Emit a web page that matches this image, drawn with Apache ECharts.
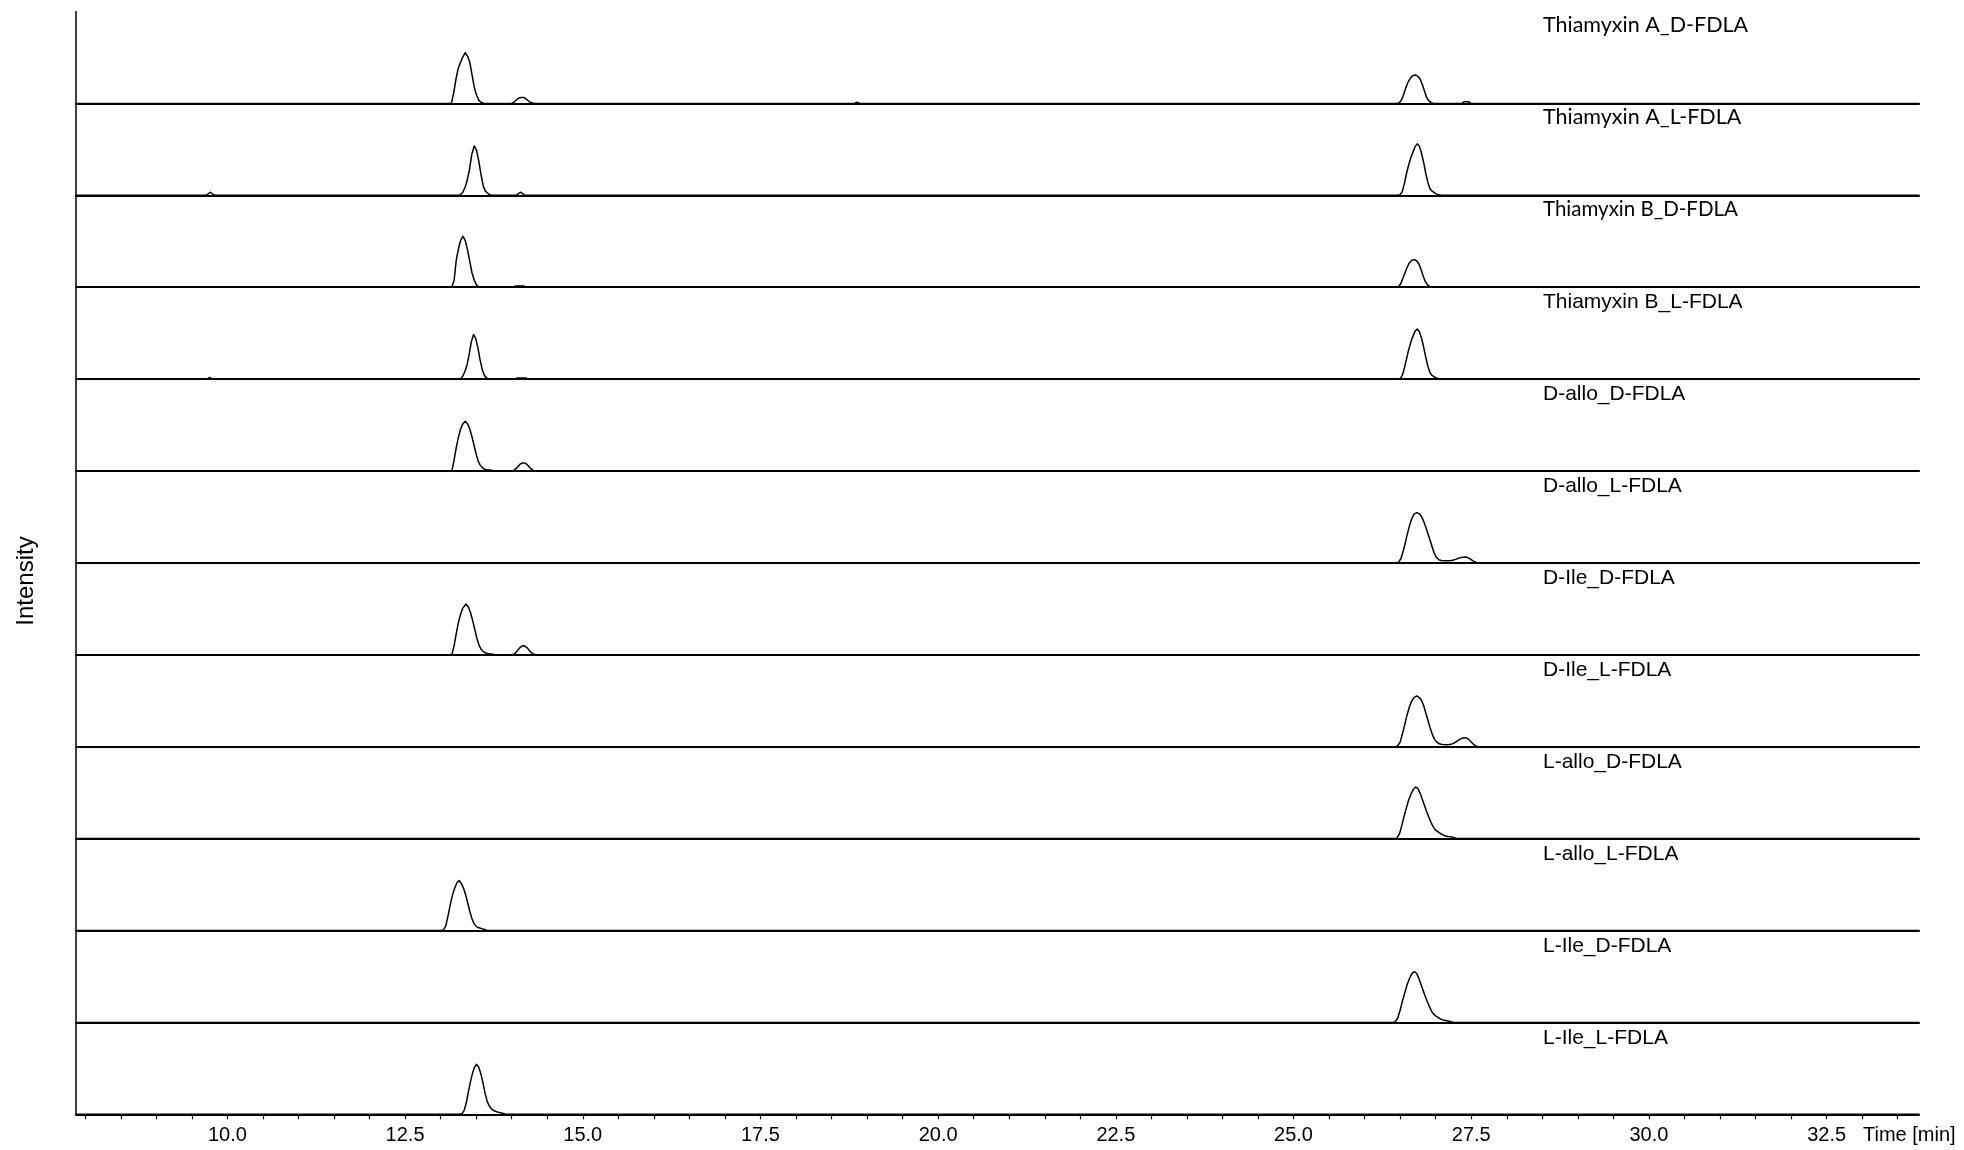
<!DOCTYPE html>
<html>
<head>
<meta charset="utf-8">
<title>Marfey analysis – extracted ion chromatograms</title>
<script src="https://cdn.jsdelivr.net/npm/echarts@6/dist/echarts.min.js"></script>
<style>
  html, body { margin: 0; padding: 0; background: #fff; }
  #chart { width: 1964px; height: 1150px; }
</style>
</head>
<body>
<div id="chart"></div>
<script>
// Retention-time window (min)
const timeRange = [7.87, 33.8];

// Labelled ticks on the time axis (min)
const tickLabels = [10.0, 12.5, 15.0, 17.5, 20.0, 22.5, 25.0, 27.5, 30.0, 32.5];

// Trace names, top to bottom
const traceNames = [
  'Thiamyxin A_D-FDLA', 'Thiamyxin A_L-FDLA', 'Thiamyxin B_D-FDLA', 'Thiamyxin B_L-FDLA',
  'D-allo_D-FDLA', 'D-allo_L-FDLA', 'D-Ile_D-FDLA', 'D-Ile_L-FDLA',
  'L-allo_D-FDLA', 'L-allo_L-FDLA', 'L-Ile_D-FDLA', 'L-Ile_L-FDLA'
];

// Chromatograms: [time (min), relative intensity (% of panel height)].
// Samples are kept >= 0.03 min apart so every vertex is stroked.
const thiamyxinA_D = [
  [7.87, 0],
  [13.12, 0], [13.153, 0.5], [13.185, 12], [13.215, 26], [13.245, 37.3], [13.275, 43.7], [13.305, 49.5],
  [13.346, 55.2], [13.38, 51.2], [13.41, 45], [13.44, 32], [13.473, 17.7], [13.505, 9.1], [13.54, 3],
  [13.575, 1], [13.61, 0],
  [14.0, 0], [14.035, 1.5], [14.07, 4], [14.105, 6.2], [14.14, 6.5], [14.175, 6.4], [14.21, 4.5], [14.245, 2],
  [14.28, 0.6], [14.315, 0],
  [18.82, 0], [18.86, 1.2], [18.9, 0],
  [26.45, 0], [26.486, 0.5], [26.52, 4], [26.55, 10], [26.58, 17], [26.61, 23], [26.64, 27], [26.675, 30],
  [26.718, 31], [26.75, 29.5], [26.78, 26.5], [26.81, 21], [26.84, 14], [26.87, 7], [26.9, 3], [26.935, 0.8], [26.97, 0],
  [27.37, 0], [27.4, 1.8], [27.46, 1.8], [27.495, 0],
  [33.8, 0]
];

const thiamyxinA_L = [
  [7.87, 0],
  [9.7, 0], [9.73, 1.5], [9.76, 3.3], [9.79, 1.5], [9.825, 0],
  [13.245, 0], [13.276, 0.5], [13.31, 3], [13.346, 9], [13.376, 17], [13.406, 28], [13.44, 45], [13.473, 53.7],
  [13.505, 49], [13.535, 38], [13.565, 24], [13.6, 10], [13.63, 4.5], [13.66, 2.5], [13.69, 0.5], [13.725, 0],
  [14.06, 0], [14.09, 1.5], [14.12, 3.3], [14.15, 2], [14.185, 0],
  [26.465, 0], [26.497, 0.5], [26.53, 4], [26.56, 13], [26.59, 24], [26.62, 33], [26.65, 41], [26.68, 47],
  [26.71, 53], [26.74, 56], [26.77, 53.5], [26.8, 46], [26.83, 36], [26.86, 24], [26.89, 14], [26.92, 7],
  [26.95, 4.5], [26.98, 3], [27.01, 1.5], [27.04, 0.5], [27.075, 0],
  [33.8, 0]
];

const thiamyxinB_D = [
  [7.87, 0],
  [13.125, 0], [13.159, 0.5], [13.19, 7.6], [13.22, 29.4], [13.25, 41.5], [13.28, 50.5], [13.313, 55.5],
  [13.345, 51], [13.375, 42], [13.407, 29.4], [13.44, 16], [13.473, 7.6], [13.505, 2.5], [13.535, 0.5], [13.57, 0],
  [14.02, 0], [14.05, 1.2], [14.176, 1.2], [14.21, 0],
  [26.445, 0], [26.478, 0.5], [26.51, 4], [26.54, 10], [26.57, 16], [26.6, 22], [26.63, 26.5], [26.665, 29.3],
  [26.7, 30], [26.735, 28.5], [26.765, 25], [26.795, 19], [26.825, 12], [26.855, 6], [26.885, 2.5], [26.92, 0.6],
  [26.955, 0],
  [33.8, 0]
];

const thiamyxinB_L = [
  [7.87, 0],
  [9.72, 0], [9.75, 1.8], [9.785, 0],
  [13.245, 0], [13.28, 0.5], [13.31, 3], [13.34, 8], [13.37, 15], [13.4, 26], [13.43, 40], [13.463, 48.6],
  [13.495, 44], [13.525, 34], [13.555, 21], [13.59, 9], [13.62, 3.5], [13.655, 0.8], [13.69, 0],
  [14.05, 0], [14.08, 1.2], [14.2, 1.2], [14.235, 0],
  [26.465, 0], [26.5, 0.5], [26.53, 4], [26.56, 12], [26.59, 22], [26.62, 32], [26.65, 40], [26.68, 46.5],
  [26.71, 52], [26.74, 54.5], [26.77, 51.5], [26.8, 45], [26.83, 35], [26.86, 24], [26.89, 14], [26.92, 7],
  [26.95, 4], [26.98, 2.5], [27.01, 1.2], [27.04, 0.4], [27.075, 0],
  [33.8, 0]
];

const dAllo_D = [
  [7.87, 0],
  [13.125, 0], [13.159, 0.5], [13.19, 12], [13.22, 25.5], [13.25, 36.5], [13.28, 45.5], [13.31, 51],
  [13.346, 54.1], [13.378, 51.5], [13.41, 46], [13.44, 37.5], [13.47, 28], [13.5, 18.5], [13.53, 10.5],
  [13.56, 6], [13.59, 3.5], [13.62, 2], [13.651, 1.4], [13.69, 1], [13.72, 0.7], [13.755, 0],
  [13.995, 0], [14.026, 0.5], [14.06, 2.5], [14.09, 5], [14.12, 7.5], [14.15, 8.8], [14.18, 8.8], [14.21, 7.5],
  [14.24, 5], [14.27, 2.5], [14.307, 0.5], [14.345, 0],
  [33.8, 0]
];

const dAllo_L = [
  [7.87, 0],
  [26.445, 0], [26.475, 0.5], [26.51, 4.5], [26.54, 12], [26.57, 21], [26.6, 31], [26.63, 40], [26.66, 47.5],
  [26.695, 53], [26.733, 54.7], [26.77, 53.5], [26.8, 50.5], [26.83, 45.5], [26.86, 39], [26.89, 32], [26.92, 25],
  [26.95, 17.5], [26.98, 10.5], [27.01, 6], [27.045, 3.5], [27.08, 2.7], [27.12, 2.4], [27.16, 2.3], [27.2, 2.4],
  [27.24, 2.8], [27.28, 3.8], [27.32, 5], [27.36, 6], [27.41, 6.5], [27.45, 5.8], [27.49, 4], [27.52, 2.5],
  [27.55, 1.2], [27.58, 0.3], [27.615, 0],
  [33.8, 0]
];

const dIle_D = [
  [7.87, 0],
  [13.125, 0], [13.159, 0.5], [13.19, 10], [13.22, 23], [13.25, 35], [13.28, 44], [13.31, 50.5], [13.356, 55.2],
  [13.39, 52], [13.42, 46], [13.45, 37.5], [13.48, 28], [13.51, 18], [13.54, 10.5], [13.57, 6], [13.6, 3.5],
  [13.63, 2.2], [13.66, 1.5], [13.7, 1], [13.735, 0.6], [13.77, 0],
  [13.995, 0], [14.03, 0.5], [14.06, 2.5], [14.09, 5.5], [14.12, 8.2], [14.15, 9.8], [14.18, 9.8], [14.21, 8.2],
  [14.24, 5.5], [14.27, 2.8], [14.31, 0.5], [14.345, 0],
  [33.8, 0]
];

const dIle_L = [
  [7.87, 0],
  [26.43, 0], [26.461, 0.5], [26.5, 5], [26.536, 15.2], [26.565, 24], [26.595, 34], [26.625, 42], [26.655, 48.5],
  [26.69, 53], [26.733, 55.2], [26.77, 53.5], [26.8, 50.5], [26.83, 45], [26.86, 37], [26.89, 29], [26.92, 21],
  [26.95, 14], [26.98, 8.5], [27.01, 5.5], [27.04, 3.5], [27.075, 2.6], [27.11, 2.3], [27.15, 2.2], [27.19, 2.4],
  [27.23, 3], [27.27, 4.5], [27.31, 6.5], [27.35, 8.5], [27.385, 9.6], [27.42, 9.8], [27.455, 8.5], [27.49, 6],
  [27.52, 3.5], [27.55, 1.5], [27.585, 0.3], [27.62, 0],
  [33.8, 0]
];

const lAllo_D = [
  [7.87, 0],
  [26.42, 0], [26.452, 0.5], [26.49, 5], [26.522, 13.8], [26.555, 24], [26.59, 34], [26.62, 42], [26.65, 48],
  [26.685, 53.5], [26.719, 56.2], [26.75, 54.5], [26.78, 49.5], [26.81, 43], [26.84, 36.5], [26.87, 30], [26.9, 24],
  [26.93, 18.5], [26.96, 13.5], [26.99, 10], [27.02, 8], [27.05, 6.5], [27.08, 5], [27.11, 3.8], [27.14, 2.8],
  [27.175, 2.2], [27.21, 1.9], [27.24, 1.5], [27.272, 0.8], [27.305, 0],
  [33.8, 0]
];

const lAllo_L = [
  [7.87, 0],
  [13.01, 0], [13.041, 0.5], [13.075, 5.5], [13.112, 18.9], [13.14, 29.5], [13.17, 39.5], [13.2, 46.5], [13.23, 52],
  [13.26, 54.4], [13.29, 51.5], [13.32, 46.5], [13.35, 39.5], [13.38, 30.5], [13.41, 21], [13.44, 13], [13.47, 7.5],
  [13.5, 4.5], [13.53, 3.2], [13.56, 2.5], [13.59, 1.8], [13.62, 1], [13.65, 0.3], [13.685, 0],
  [33.8, 0]
];

const lIle_D = [
  [7.87, 0],
  [26.395, 0], [26.428, 0.5], [26.465, 4.5], [26.5, 13.5], [26.535, 24], [26.57, 33.5], [26.6, 41.5], [26.63, 47.5],
  [26.665, 53], [26.7, 55.2], [26.73, 53.5], [26.76, 48.5], [26.79, 42], [26.82, 35.5], [26.85, 29], [26.88, 23],
  [26.91, 17.5], [26.94, 12.5], [26.97, 9], [27.0, 7], [27.03, 5.5], [27.06, 4], [27.09, 3], [27.12, 2.3],
  [27.155, 1.8], [27.19, 1.2], [27.225, 0.4], [27.26, 0],
  [33.8, 0]
];

const lIle_L = [
  [7.87, 0],
  [13.265, 0], [13.299, 0.5], [13.33, 4], [13.36, 12], [13.39, 24.5], [13.42, 35.5], [13.45, 45], [13.475, 51],
  [13.505, 54.4], [13.535, 51.5], [13.565, 44.5], [13.595, 34.5], [13.625, 23], [13.655, 14], [13.685, 9],
  [13.715, 6], [13.745, 4.2], [13.78, 3], [13.81, 2.2], [13.845, 1.6], [13.88, 0.9], [13.91, 0.3], [13.945, 0],
  [33.8, 0]
];

const traces = [
  thiamyxinA_D, thiamyxinA_L, thiamyxinB_D, thiamyxinB_L,
  dAllo_D, dAllo_L, dIle_D, dIle_L,
  lAllo_D, lAllo_L, lIle_D, lIle_L
];

// ---- layout ----
const PLOT_LEFT = 76;
const PLOT_WIDTH = 1843;
const PLOT_TOP = 11.5;
const PANEL_H = 91.9;
const SANS = '"Liberation Sans", Arial, sans-serif';
const HUMANIST = 'Lato, "Open Sans", sans-serif';
// the first three trace titles are set in a humanist face
const titleFonts = traceNames.map((_, i) => i < 3
  ? { family: HUMANIST, size: i === 2 ? 20.5 : 21.5, dy: 14 }
  : { family: SANS, size: 21, dy: 15.5 });

// minor ticks every 0.5 min
const minorTicks = [];
for (let t = 8.0; t <= 33.5 + 1e-9; t += 0.5) minorTicks.push(+t.toFixed(1));

const n = traces.length;
const grids = [], xAxes = [], yAxes = [], series = [], graphics = [];

for (let i = 0; i < n; i++) {
  const last = i === n - 1;
  const top = PLOT_TOP + PANEL_H * i;
  grids.push({
    left: PLOT_LEFT, width: PLOT_WIDTH, top: top, height: PANEL_H,
    containLabel: false, outerBoundsMode: 'none'
  });
  xAxes.push({
    type: 'value', gridIndex: i, min: timeRange[0], max: timeRange[1], z: 10,
    axisLine: { show: true, onZero: false, lineStyle: { color: '#000', width: 2 } },
    axisTick: last
      ? { show: true, customValues: minorTicks, length: 5, lineStyle: { color: '#000', width: 1.2 } }
      : { show: false },
    axisLabel: last
      ? {
          show: true, customValues: tickLabels, margin: 11,
          formatter: v => Number(v).toFixed(1),
          color: '#000', fontSize: 20, fontFamily: SANS
        }
      : { show: false },
    splitLine: { show: false }
  });
  yAxes.push({
    type: 'value', gridIndex: i, min: 0, max: 100, z: 10,
    axisLine: { show: true, onZero: false, lineStyle: { color: '#000', width: 1.5 } },
    axisTick: { show: false }, axisLabel: { show: false }, splitLine: { show: false }
  });
  series.push({
    type: 'line', xAxisIndex: i, yAxisIndex: i, data: traces[i],
    showSymbol: false, symbol: 'none', silent: true, animation: false,
    lineStyle: { color: '#000', width: 1.5, join: 'round', cap: 'round' }, z: 3
  });
  graphics.push({
    type: 'text', x: 1543, y: top + titleFonts[i].dy, silent: true,
    style: {
      text: traceNames[i], fill: '#000',
      font: titleFonts[i].size + 'px ' + titleFonts[i].family,
      textAlign: 'left', textVerticalAlign: 'middle'
    }
  });
}

graphics.push({
  type: 'text', x: 26, y: 581, rotation: Math.PI / 2, silent: true,
  style: { text: 'Intensity', fill: '#000', font: '24px ' + SANS, textAlign: 'center', textVerticalAlign: 'middle' }
});
graphics.push({
  type: 'text', x: 1863, y: 1135, silent: true,
  style: { text: 'Time [min]', fill: '#000', font: '20px ' + SANS, textAlign: 'left', textVerticalAlign: 'middle' }
});

const chart = echarts.init(document.getElementById('chart'), null, { renderer: 'canvas' });
chart.setOption({
  backgroundColor: '#fff',
  animation: false,
  grid: grids,
  xAxis: xAxes,
  yAxis: yAxes,
  series: series,
  graphic: graphics
});
</script>
</body>
</html>
